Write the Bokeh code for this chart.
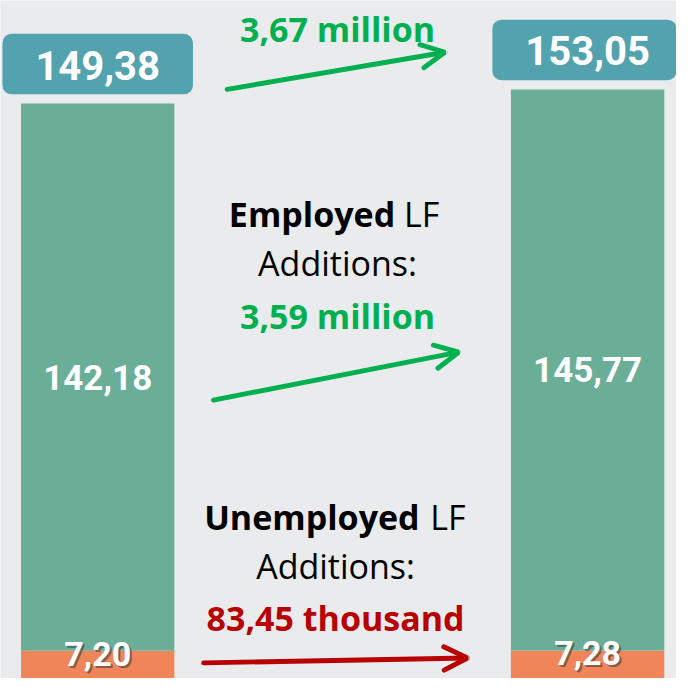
from bokeh.plotting import figure
from bokeh.models import ColumnDataSource, Arrow, OpenHead, Label, Range1d
from bokeh.core.properties import value
from bokeh.embed import file_html
from bokeh.resources import INLINE

# ---- data ----
periods = ["Period 1", "Period 2"]
employed = [142.18, 145.77]
unemployed = [7.20, 7.28]
total = [149.38, 153.05]
employed_labels = ["142,18", "145,77"]
unemployed_labels = ["7,20", "7,28"]
total_labels = ["149,38", "153,05"]
total_change = "3,67 million"
employed_change = "3,59 million"
unemployed_change = "83,45 thousand"

# ---- layout ----
S = 676 / 692
W, H = 676, 678
XPU = 501.5          # reference px per x unit
X0 = -99.5 / XPU
YPU = 3.94           # reference px per y unit

def dx(px):
    return px / XPU + X0

def dy(py):
    return (694 - py) / YPU

def fs(px):
    return f"{round(px * S)}px"

GREEN_BAR = "#6AAE98"
ORANGE = "#F0855A"
TEAL = "#52A3AE"
BG = "#EAEBEC"
GREEN = "#00B050"
RED = "#B80000"
NARROW = "Roboto"
SANS = "Open Sans"

xs = [0, 1]
bar_w = 157 / XPU
box_w = 195 / XPU
box_gap = 2.4
box_h = 15.7

src = ColumnDataSource(dict(
    x=xs,
    emp_bottom=unemployed,
    emp_top=[u + e for u, e in zip(unemployed, employed)],
    unemp=unemployed,
    total=total,
    box_bottom=[t + box_gap for t in total],
    box_top=[t + box_gap + box_h for t in total],
    box_mid=[t + box_gap + box_h / 2 for t in total],
    emp_mid=[u + e / 2 for u, e in zip(unemployed, employed)],
    unemp_mid=[u / 2 for u in unemployed],
    emp_lab=employed_labels,
    unemp_lab=unemployed_labels,
    tot_lab=total_labels,
))

p = figure(width=W, height=H, output_backend="svg", toolbar_location=None,
           x_range=Range1d(X0, X0 + 692 / XPU), y_range=Range1d(0, 694 / YPU),
           min_border=0, background_fill_color=BG, border_fill_color=BG)
p.axis.visible = False
p.grid.visible = False
p.outline_line_color = None

p.vbar(x="x", width=bar_w, bottom=0, top="unemp", source=src,
       fill_color=ORANGE, line_color=None)
p.vbar(x="x", width=bar_w, bottom="emp_bottom", top="emp_top", source=src,
       fill_color=GREEN_BAR, line_color=None)
p.vbar(x="x", width=box_w, bottom="box_bottom", top="box_top", source=src,
       fill_color=TEAL, line_color=None, border_radius=9)

p.text(x="x", y="box_mid", text="tot_lab", source=src, text_color="white",
       text_font=value(NARROW), text_font_style="bold", text_font_size=fs(41),
       text_align="center", text_baseline="middle", y_offset=1)
p.text(x="x", y="emp_mid", text="emp_lab", source=src, text_color="white",
       text_font=value(NARROW), text_font_style="bold", text_font_size=fs(36),
       text_align="center", text_baseline="middle")
# shadow for unemployed labels
p.text(x="x", y="unemp_mid", text="unemp_lab", source=src, text_color="#333333",
       text_alpha=0.55, text_font=value(NARROW), text_font_style="bold",
       text_font_size=fs(35), text_align="center", text_baseline="middle",
       x_offset=2, y_offset=-9)
p.text(x="x", y="unemp_mid", text="unemp_lab", source=src, text_color="white",
       text_font=value(NARROW), text_font_style="bold", text_font_size=fs(35),
       text_align="center", text_baseline="middle", y_offset=-11)

# ---- annotations ----
SHIFT = 13

def label(txt, x, y, color, bold=False, align="center"):
    p.add_layout(Label(x=dx(x), y=dy(y - SHIFT), text=txt, text_color=color,
                       text_font=SANS, text_font_size=fs(35),
                       text_font_style="bold" if bold else "normal",
                       text_align=align, text_baseline="alphabetic"))

label(total_change, 345, 42, GREEN, bold=True)
label("Employed", 404, 232, "black", bold=True, align="right")
label("LF", 413, 232, "black", align="left")
label("Additions:", 345, 282, "black")
label(employed_change, 345, 336, GREEN, bold=True)
label("Unemployed", 429, 542, "black", bold=True, align="right")
label("LF", 440, 542, "black", align="left")
label("Additions:", 343, 592, "black")
label(unemployed_change, 343, 645, RED, bold=True)

def arrow(x1, y1, x2, y2, color):
    p.add_layout(Arrow(x_start=dx(x1), y_start=dy(y1), x_end=dx(x2), y_end=dy(y2),
                       line_color=color, line_width=5 * S, line_cap="round",
                       end=OpenHead(size=24 * S, line_color=color, line_width=5 * S,
                                    line_cap="round")))

arrow(232, 91, 455, 53, GREEN)
arrow(218, 409, 469, 360, GREEN)
arrow(208, 678, 478, 673, RED)

open("out.html", "w").write(file_html(p, INLINE))
